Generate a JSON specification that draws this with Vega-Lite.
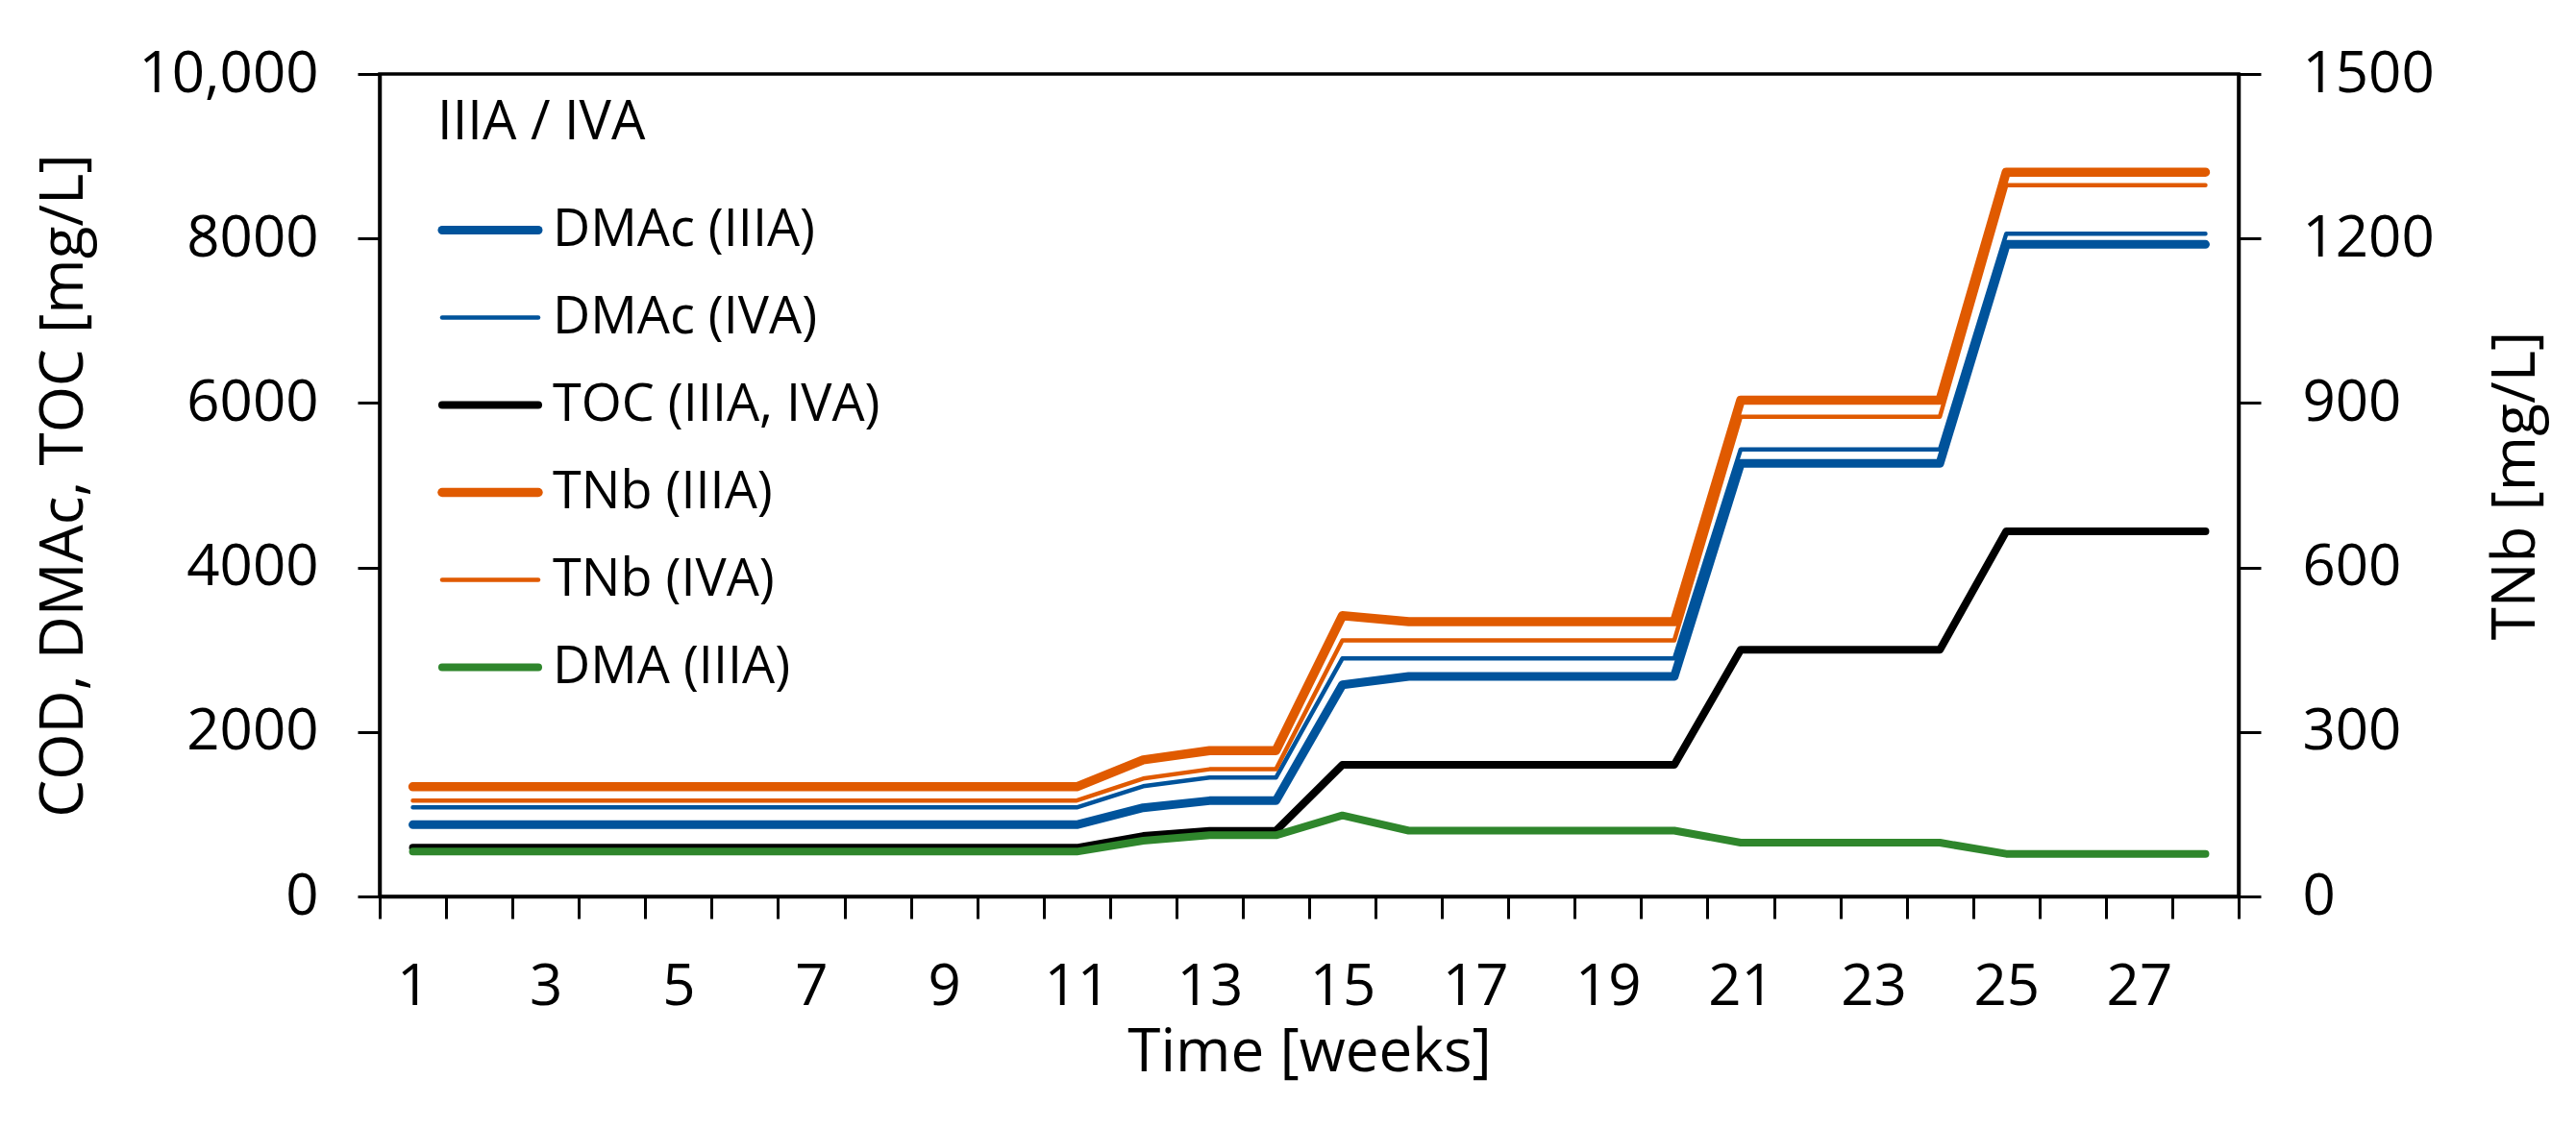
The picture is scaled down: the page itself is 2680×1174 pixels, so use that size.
{
  "$schema": "https://vega.github.io/schema/vega-lite/v6.json",
  "autosize": {"type": "none"},
  "width": 1934,
  "height": 856,
  "padding": {"left": 395, "top": 77, "right": 351, "bottom": 241},
  "background": "white",
  "config": {
    "view": {"stroke": "black", "strokeWidth": 3.5},
    "font": "Open Sans",
    "axis": {
      "labelFont": "Open Sans", "titleFont": "Open Sans",
      "labelColor": "black", "titleColor": "black",
      "domainColor": "black", "tickColor": "black",
      "domainWidth": 3.5, "tickWidth": 3, "tickSize": 23,
      "labelFontSize": 60, "titleFontSize": 62, "titleFontWeight": "normal",
      "labelLimit": 1000, "titleLimit": 2000,
      "grid": false
    },
    "legend": {
      "orient": "none", "legendX": 60, "legendY": 24, "padding": 0,
      "titleFont": "Open Sans", "labelFont": "Open Sans",
      "titleFontSize": 56, "labelFontSize": 54, "titleFontWeight": "normal",
      "titleColor": "black", "labelColor": "black",
      "labelLimit": 1000, "titleLimit": 1000,
      "symbolType": "stroke", "symbolSize": 10000, "clipHeight": 91,
      "rowPadding": 0, "labelOffset": 10, "titlePadding": 37
    }
  },
  "data": {"values": [
    {"week":1,"series":"DMAc (IIIA)","value":872,"axis":"L"},
    {"week":2,"series":"DMAc (IIIA)","value":872,"axis":"L"},
    {"week":3,"series":"DMAc (IIIA)","value":872,"axis":"L"},
    {"week":4,"series":"DMAc (IIIA)","value":872,"axis":"L"},
    {"week":5,"series":"DMAc (IIIA)","value":872,"axis":"L"},
    {"week":6,"series":"DMAc (IIIA)","value":872,"axis":"L"},
    {"week":7,"series":"DMAc (IIIA)","value":872,"axis":"L"},
    {"week":8,"series":"DMAc (IIIA)","value":872,"axis":"L"},
    {"week":9,"series":"DMAc (IIIA)","value":872,"axis":"L"},
    {"week":10,"series":"DMAc (IIIA)","value":872,"axis":"L"},
    {"week":11,"series":"DMAc (IIIA)","value":872,"axis":"L"},
    {"week":12,"series":"DMAc (IIIA)","value":1078,"axis":"L"},
    {"week":13,"series":"DMAc (IIIA)","value":1164,"axis":"L"},
    {"week":14,"series":"DMAc (IIIA)","value":1164,"axis":"L"},
    {"week":15,"series":"DMAc (IIIA)","value":2574,"axis":"L"},
    {"week":16,"series":"DMAc (IIIA)","value":2675,"axis":"L"},
    {"week":17,"series":"DMAc (IIIA)","value":2675,"axis":"L"},
    {"week":18,"series":"DMAc (IIIA)","value":2675,"axis":"L"},
    {"week":19,"series":"DMAc (IIIA)","value":2675,"axis":"L"},
    {"week":20,"series":"DMAc (IIIA)","value":2675,"axis":"L"},
    {"week":21,"series":"DMAc (IIIA)","value":5265,"axis":"L"},
    {"week":22,"series":"DMAc (IIIA)","value":5265,"axis":"L"},
    {"week":23,"series":"DMAc (IIIA)","value":5265,"axis":"L"},
    {"week":24,"series":"DMAc (IIIA)","value":5265,"axis":"L"},
    {"week":25,"series":"DMAc (IIIA)","value":7928,"axis":"L"},
    {"week":26,"series":"DMAc (IIIA)","value":7928,"axis":"L"},
    {"week":27,"series":"DMAc (IIIA)","value":7928,"axis":"L"},
    {"week":28,"series":"DMAc (IIIA)","value":7928,"axis":"L"},

    {"week":1,"series":"DMAc (IVA)","value":1083,"axis":"L"},
    {"week":2,"series":"DMAc (IVA)","value":1083,"axis":"L"},
    {"week":3,"series":"DMAc (IVA)","value":1083,"axis":"L"},
    {"week":4,"series":"DMAc (IVA)","value":1083,"axis":"L"},
    {"week":5,"series":"DMAc (IVA)","value":1083,"axis":"L"},
    {"week":6,"series":"DMAc (IVA)","value":1083,"axis":"L"},
    {"week":7,"series":"DMAc (IVA)","value":1083,"axis":"L"},
    {"week":8,"series":"DMAc (IVA)","value":1083,"axis":"L"},
    {"week":9,"series":"DMAc (IVA)","value":1083,"axis":"L"},
    {"week":10,"series":"DMAc (IVA)","value":1083,"axis":"L"},
    {"week":11,"series":"DMAc (IVA)","value":1083,"axis":"L"},
    {"week":12,"series":"DMAc (IVA)","value":1340,"axis":"L"},
    {"week":13,"series":"DMAc (IVA)","value":1445,"axis":"L"},
    {"week":14,"series":"DMAc (IVA)","value":1445,"axis":"L"},
    {"week":15,"series":"DMAc (IVA)","value":2893,"axis":"L"},
    {"week":16,"series":"DMAc (IVA)","value":2893,"axis":"L"},
    {"week":17,"series":"DMAc (IVA)","value":2893,"axis":"L"},
    {"week":18,"series":"DMAc (IVA)","value":2893,"axis":"L"},
    {"week":19,"series":"DMAc (IVA)","value":2893,"axis":"L"},
    {"week":20,"series":"DMAc (IVA)","value":2893,"axis":"L"},
    {"week":21,"series":"DMAc (IVA)","value":5435,"axis":"L"},
    {"week":22,"series":"DMAc (IVA)","value":5435,"axis":"L"},
    {"week":23,"series":"DMAc (IVA)","value":5435,"axis":"L"},
    {"week":24,"series":"DMAc (IVA)","value":5435,"axis":"L"},
    {"week":25,"series":"DMAc (IVA)","value":8057,"axis":"L"},
    {"week":26,"series":"DMAc (IVA)","value":8057,"axis":"L"},
    {"week":27,"series":"DMAc (IVA)","value":8057,"axis":"L"},
    {"week":28,"series":"DMAc (IVA)","value":8057,"axis":"L"},

    {"week":1,"series":"TOC (IIIA, IVA)","value":592,"axis":"L"},
    {"week":2,"series":"TOC (IIIA, IVA)","value":592,"axis":"L"},
    {"week":3,"series":"TOC (IIIA, IVA)","value":592,"axis":"L"},
    {"week":4,"series":"TOC (IIIA, IVA)","value":592,"axis":"L"},
    {"week":5,"series":"TOC (IIIA, IVA)","value":592,"axis":"L"},
    {"week":6,"series":"TOC (IIIA, IVA)","value":592,"axis":"L"},
    {"week":7,"series":"TOC (IIIA, IVA)","value":592,"axis":"L"},
    {"week":8,"series":"TOC (IIIA, IVA)","value":592,"axis":"L"},
    {"week":9,"series":"TOC (IIIA, IVA)","value":592,"axis":"L"},
    {"week":10,"series":"TOC (IIIA, IVA)","value":592,"axis":"L"},
    {"week":11,"series":"TOC (IIIA, IVA)","value":592,"axis":"L"},
    {"week":12,"series":"TOC (IIIA, IVA)","value":735,"axis":"L"},
    {"week":13,"series":"TOC (IIIA, IVA)","value":798,"axis":"L"},
    {"week":14,"series":"TOC (IIIA, IVA)","value":798,"axis":"L"},
    {"week":15,"series":"TOC (IIIA, IVA)","value":1600,"axis":"L"},
    {"week":16,"series":"TOC (IIIA, IVA)","value":1600,"axis":"L"},
    {"week":17,"series":"TOC (IIIA, IVA)","value":1600,"axis":"L"},
    {"week":18,"series":"TOC (IIIA, IVA)","value":1600,"axis":"L"},
    {"week":19,"series":"TOC (IIIA, IVA)","value":1600,"axis":"L"},
    {"week":20,"series":"TOC (IIIA, IVA)","value":1600,"axis":"L"},
    {"week":21,"series":"TOC (IIIA, IVA)","value":3000,"axis":"L"},
    {"week":22,"series":"TOC (IIIA, IVA)","value":3000,"axis":"L"},
    {"week":23,"series":"TOC (IIIA, IVA)","value":3000,"axis":"L"},
    {"week":24,"series":"TOC (IIIA, IVA)","value":3000,"axis":"L"},
    {"week":25,"series":"TOC (IIIA, IVA)","value":4440,"axis":"L"},
    {"week":26,"series":"TOC (IIIA, IVA)","value":4440,"axis":"L"},
    {"week":27,"series":"TOC (IIIA, IVA)","value":4440,"axis":"L"},
    {"week":28,"series":"TOC (IIIA, IVA)","value":4440,"axis":"L"},

    {"week":1,"series":"DMA (IIIA)","value":545,"axis":"L"},
    {"week":2,"series":"DMA (IIIA)","value":545,"axis":"L"},
    {"week":3,"series":"DMA (IIIA)","value":545,"axis":"L"},
    {"week":4,"series":"DMA (IIIA)","value":545,"axis":"L"},
    {"week":5,"series":"DMA (IIIA)","value":545,"axis":"L"},
    {"week":6,"series":"DMA (IIIA)","value":545,"axis":"L"},
    {"week":7,"series":"DMA (IIIA)","value":545,"axis":"L"},
    {"week":8,"series":"DMA (IIIA)","value":545,"axis":"L"},
    {"week":9,"series":"DMA (IIIA)","value":545,"axis":"L"},
    {"week":10,"series":"DMA (IIIA)","value":545,"axis":"L"},
    {"week":11,"series":"DMA (IIIA)","value":545,"axis":"L"},
    {"week":12,"series":"DMA (IIIA)","value":677,"axis":"L"},
    {"week":13,"series":"DMA (IIIA)","value":744,"axis":"L"},
    {"week":14,"series":"DMA (IIIA)","value":744,"axis":"L"},
    {"week":15,"series":"DMA (IIIA)","value":985,"axis":"L"},
    {"week":16,"series":"DMA (IIIA)","value":800,"axis":"L"},
    {"week":17,"series":"DMA (IIIA)","value":800,"axis":"L"},
    {"week":18,"series":"DMA (IIIA)","value":800,"axis":"L"},
    {"week":19,"series":"DMA (IIIA)","value":800,"axis":"L"},
    {"week":20,"series":"DMA (IIIA)","value":800,"axis":"L"},
    {"week":21,"series":"DMA (IIIA)","value":654,"axis":"L"},
    {"week":22,"series":"DMA (IIIA)","value":654,"axis":"L"},
    {"week":23,"series":"DMA (IIIA)","value":654,"axis":"L"},
    {"week":24,"series":"DMA (IIIA)","value":654,"axis":"L"},
    {"week":25,"series":"DMA (IIIA)","value":518,"axis":"L"},
    {"week":26,"series":"DMA (IIIA)","value":518,"axis":"L"},
    {"week":27,"series":"DMA (IIIA)","value":518,"axis":"L"},
    {"week":28,"series":"DMA (IIIA)","value":518,"axis":"L"},

    {"week":1,"series":"TNb (IVA)","value":175,"axis":"R"},
    {"week":2,"series":"TNb (IVA)","value":175,"axis":"R"},
    {"week":3,"series":"TNb (IVA)","value":175,"axis":"R"},
    {"week":4,"series":"TNb (IVA)","value":175,"axis":"R"},
    {"week":5,"series":"TNb (IVA)","value":175,"axis":"R"},
    {"week":6,"series":"TNb (IVA)","value":175,"axis":"R"},
    {"week":7,"series":"TNb (IVA)","value":175,"axis":"R"},
    {"week":8,"series":"TNb (IVA)","value":175,"axis":"R"},
    {"week":9,"series":"TNb (IVA)","value":175,"axis":"R"},
    {"week":10,"series":"TNb (IVA)","value":175,"axis":"R"},
    {"week":11,"series":"TNb (IVA)","value":175,"axis":"R"},
    {"week":12,"series":"TNb (IVA)","value":215,"axis":"R"},
    {"week":13,"series":"TNb (IVA)","value":232,"axis":"R"},
    {"week":14,"series":"TNb (IVA)","value":232,"axis":"R"},
    {"week":15,"series":"TNb (IVA)","value":467,"axis":"R"},
    {"week":16,"series":"TNb (IVA)","value":467,"axis":"R"},
    {"week":17,"series":"TNb (IVA)","value":467,"axis":"R"},
    {"week":18,"series":"TNb (IVA)","value":467,"axis":"R"},
    {"week":19,"series":"TNb (IVA)","value":467,"axis":"R"},
    {"week":20,"series":"TNb (IVA)","value":467,"axis":"R"},
    {"week":21,"series":"TNb (IVA)","value":875,"axis":"R"},
    {"week":22,"series":"TNb (IVA)","value":875,"axis":"R"},
    {"week":23,"series":"TNb (IVA)","value":875,"axis":"R"},
    {"week":24,"series":"TNb (IVA)","value":875,"axis":"R"},
    {"week":25,"series":"TNb (IVA)","value":1297,"axis":"R"},
    {"week":26,"series":"TNb (IVA)","value":1297,"axis":"R"},
    {"week":27,"series":"TNb (IVA)","value":1297,"axis":"R"},
    {"week":28,"series":"TNb (IVA)","value":1297,"axis":"R"},

    {"week":1,"series":"TNb (IIIA)","value":200,"axis":"R"},
    {"week":2,"series":"TNb (IIIA)","value":200,"axis":"R"},
    {"week":3,"series":"TNb (IIIA)","value":200,"axis":"R"},
    {"week":4,"series":"TNb (IIIA)","value":200,"axis":"R"},
    {"week":5,"series":"TNb (IIIA)","value":200,"axis":"R"},
    {"week":6,"series":"TNb (IIIA)","value":200,"axis":"R"},
    {"week":7,"series":"TNb (IIIA)","value":200,"axis":"R"},
    {"week":8,"series":"TNb (IIIA)","value":200,"axis":"R"},
    {"week":9,"series":"TNb (IIIA)","value":200,"axis":"R"},
    {"week":10,"series":"TNb (IIIA)","value":200,"axis":"R"},
    {"week":11,"series":"TNb (IIIA)","value":200,"axis":"R"},
    {"week":12,"series":"TNb (IIIA)","value":249,"axis":"R"},
    {"week":13,"series":"TNb (IIIA)","value":266,"axis":"R"},
    {"week":14,"series":"TNb (IIIA)","value":266,"axis":"R"},
    {"week":15,"series":"TNb (IIIA)","value":512,"axis":"R"},
    {"week":16,"series":"TNb (IIIA)","value":501,"axis":"R"},
    {"week":17,"series":"TNb (IIIA)","value":501,"axis":"R"},
    {"week":18,"series":"TNb (IIIA)","value":501,"axis":"R"},
    {"week":19,"series":"TNb (IIIA)","value":501,"axis":"R"},
    {"week":20,"series":"TNb (IIIA)","value":501,"axis":"R"},
    {"week":21,"series":"TNb (IIIA)","value":905,"axis":"R"},
    {"week":22,"series":"TNb (IIIA)","value":905,"axis":"R"},
    {"week":23,"series":"TNb (IIIA)","value":905,"axis":"R"},
    {"week":24,"series":"TNb (IIIA)","value":905,"axis":"R"},
    {"week":25,"series":"TNb (IIIA)","value":1321,"axis":"R"},
    {"week":26,"series":"TNb (IIIA)","value":1321,"axis":"R"},
    {"week":27,"series":"TNb (IIIA)","value":1321,"axis":"R"},
    {"week":28,"series":"TNb (IIIA)","value":1321,"axis":"R"}
  ]},
  "encoding": {
    "x": {
      "field": "week", "type": "quantitative",
      "scale": {"domain": [0.5, 28.5], "nice": false, "zero": false},
      "axis": {
        "values": [0.5,1.5,2.5,3.5,4.5,5.5,6.5,7.5,8.5,9.5,10.5,11.5,12.5,13.5,14.5,15.5,16.5,17.5,18.5,19.5,20.5,21.5,22.5,23.5,24.5,25.5,26.5,27.5,28.5],
        "labelExpr": "((datum.value - 0.5) % 2 == 0 && datum.value < 28) ? format(datum.value + 0.5, 'd') : ''",
        "labelOffset": 34.54,
        "labelBaseline": "alphabetic",
        "labelPadding": 89,
        "labelOverlap": false, "labelFlush": false, "labelBound": false,
        "title": "Time [weeks]",
        "titleBaseline": "alphabetic", "titleAlign": "center",
        "titleX": 967, "titleY": 181
      }
    },
    "color": {
      "field": "series", "type": "nominal",
      "scale": {
        "domain": ["DMAc (IIIA)", "DMAc (IVA)", "TOC (IIIA, IVA)", "TNb (IIIA)", "TNb (IVA)", "DMA (IIIA)"],
        "range": ["#00539B", "#00539B", "#000000", "#E05A00", "#E05A00", "#2F862C"]
      },
      "legend": {
        "title": "IIIA / IVA",
        "encode": {"symbols": {"update": {"strokeCap": {"value": "round"}}}}
      }
    },
    "strokeWidth": {
      "field": "series", "type": "nominal",
      "scale": {
        "type": "ordinal",
        "domain": ["DMAc (IIIA)", "DMAc (IVA)", "TOC (IIIA, IVA)", "TNb (IIIA)", "TNb (IVA)", "DMA (IIIA)"],
        "range": [9, 4.5, 8, 9.5, 4.5, 8]
      },
      "legend": {"title": "IIIA / IVA"}
    }
  },
  "layer": [
    {
      "transform": [{"filter": "datum.axis == 'L'"}],
      "mark": {"type": "line", "strokeCap": "round", "strokeJoin": "round"},
      "encoding": {
        "y": {
          "field": "value", "type": "quantitative",
          "scale": {"domain": [0, 10000], "nice": false},
          "axis": {
            "orient": "left",
            "values": [0, 2000, 4000, 6000, 8000, 10000],
            "labelExpr": "datum.value == 10000 ? '10,000' : format(datum.value, 'd')",
            "labelPadding": 41,
            "title": "COD, DMAc, TOC [mg/L]",
            "titleAngle": 270, "titleAlign": "center", "titleBaseline": "alphabetic",
            "titleX": -310, "titleY": 428
          }
        }
      }
    },
    {
      "transform": [{"filter": "datum.axis == 'R'"}],
      "mark": {"type": "line", "strokeCap": "round", "strokeJoin": "round"},
      "encoding": {
        "y": {
          "field": "value", "type": "quantitative",
          "scale": {"domain": [0, 1500], "nice": false},
          "axis": {
            "orient": "right",
            "values": [0, 300, 600, 900, 1200, 1500],
            "format": "d",
            "labelPadding": 43,
            "title": "TNb [mg/L]",
            "titleAngle": 270, "titleAlign": "center", "titleBaseline": "alphabetic",
            "titleX": 307, "titleY": 428
          }
        }
      }
    }
  ],
  "resolve": {"scale": {"y": "independent"}}
}
